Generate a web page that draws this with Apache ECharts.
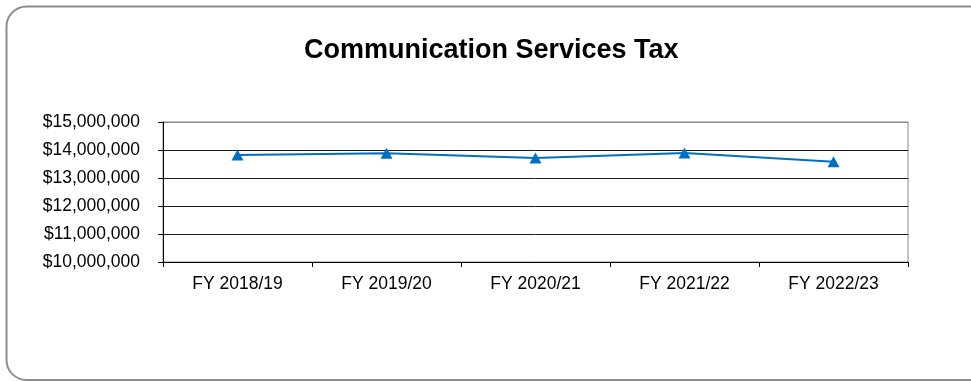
<!DOCTYPE html>
<html>
<head>
<meta charset="utf-8">
<script src="https://cdn.jsdelivr.net/npm/echarts@6/dist/echarts.min.js"></script>
<style>
  html, body { margin: 0; padding: 0; background: #fff; }
  #chart { width: 971px; height: 381px; }
</style>
</head>
<body>
<div id="chart"></div>
<script>
// Communication Services Tax revenue by fiscal year
const titleText = 'Communication Services Tax';
const categories = ['FY 2018/19', 'FY 2019/20', 'FY 2020/21', 'FY 2021/22', 'FY 2022/23'];
const taxRevenue = [13820000, 13880000, 13710000, 13890000, 13580000];
const yTicks = [10000000, 11000000, 12000000, 13000000, 14000000, 15000000];

const fontFamily = 'Liberation Sans, Arial, sans-serif';

function money(v) {
  return '$' + Math.round(v).toString().replace(/\B(?=(\d{3})+(?!\d))/g, ',');
}

const chart = echarts.init(document.getElementById('chart'), null, { renderer: 'canvas' });

chart.setOption({
  animation: false,
  backgroundColor: '#ffffff',
  graphic: [{
    type: 'rect',
    z: -10,
    silent: true,
    shape: { x: 6.5, y: 6.5, width: 990, height: 373.5, r: 20 },
    style: { fill: 'none', stroke: '#8c8c8c', lineWidth: 2 }
  }],
  title: {
    text: titleText,
    left: 299,
    top: 32,
    textStyle: { fontFamily: fontFamily, fontSize: 27, fontWeight: 'bold', color: '#000' }
  },
  grid: {
    left: 163, right: 63, top: 122, bottom: 119,
    show: true,
    borderColor: '#888888',
    borderWidth: 1,
    backgroundColor: 'transparent'
  },
  xAxis: {
    type: 'category',
    data: categories,
    boundaryGap: true,
    axisLine: { lineStyle: { color: '#000', width: 1 } },
    axisTick: { show: true, interval: 0, length: 5, lineStyle: { color: '#000' } },
    axisLabel: { margin: 13, color: '#000', fontFamily: fontFamily, fontSize: 17.5 },
    splitLine: { show: false }
  },
  yAxis: {
    type: 'value',
    min: yTicks[0],
    max: yTicks[yTicks.length - 1],
    interval: yTicks[1] - yTicks[0],
    axisLine: { show: true, lineStyle: { color: '#000', width: 1 } },
    axisTick: { show: true, length: 5, lineStyle: { color: '#000' } },
    axisLabel: { margin: 23, color: '#000', fontFamily: fontFamily, fontSize: 17.5, formatter: money },
    splitLine: {
      show: true,
      lineStyle: { color: ['#000', '#1a1a1a', '#1a1a1a', '#1a1a1a', '#1a1a1a', '#888888'], width: 1 }
    }
  },
  series: [{
    type: 'line',
    data: taxRevenue,
    symbol: 'triangle',
    symbolSize: [12, 11],
    showSymbol: true,
    lineStyle: { color: '#0070c0', width: 2 },
    itemStyle: { color: '#0070c0', borderWidth: 0 }
  }]
});
</script>
</body>
</html>
